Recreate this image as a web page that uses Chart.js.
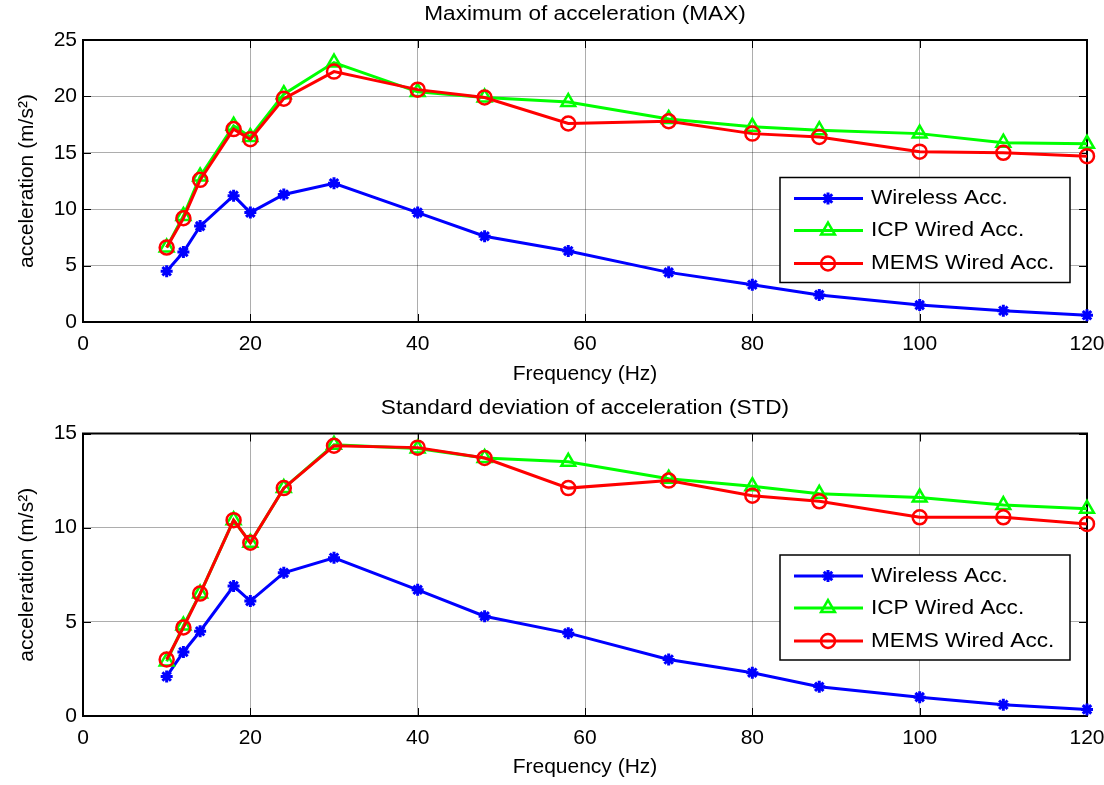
<!DOCTYPE html>
<html>
<head>
<meta charset="utf-8">
<title>Acceleration vs frequency</title>
<script src="https://cdn.jsdelivr.net/npm/chart.js@4/dist/chart.umd.min.js"></script>
<style>
  html, body { margin: 0; padding: 0; background: #fff; }
  #wrap { position: relative; width: 1104px; height: 785px; }
  .panel { position: absolute; left: 0; width: 1104px; }
</style>
</head>
<body>
<div id="wrap">
  <div class="panel" style="top:0;height:392px"><canvas id="maxChart" width="1104" height="392"></canvas></div>
  <div class="panel" style="top:392px;height:393px"><canvas id="stdChart" width="1104" height="393"></canvas></div>
</div>
<script>
// excitation frequencies (Hz)
const frecuencias = [10, 12, 14, 18, 20, 24, 30, 40, 48, 58, 70, 80, 88, 100, 110, 120];

// maximum of acceleration (m/s^2)
const maxWireless = [4.5, 6.2, 8.5, 11.2, 9.7, 11.3, 12.3, 9.7, 7.6, 6.3, 4.4, 3.3, 2.4, 1.5, 1.0, 0.6];
const maxICP      = [6.6, 9.4, 12.9, 17.4, 16.4, 20.2, 23.0, 20.4, 19.9, 19.5, 18.0, 17.3, 17.0, 16.7, 15.9, 15.8];
const maxMEMS     = [6.6, 9.2, 12.6, 17.1, 16.2, 19.8, 22.2, 20.6, 19.9, 17.6, 17.8, 16.7, 16.4, 15.1, 15.0, 14.7];

// standard deviation of acceleration (m/s^2)
const stdWireless = [2.1, 3.4, 4.5, 6.9, 6.1, 7.6, 8.4, 6.7, 5.3, 4.4, 3.0, 2.3, 1.55, 1.0, 0.6, 0.35];
const stdICP      = [2.9, 4.8, 6.5, 10.4, 9.2, 12.1, 14.4, 14.2, 13.7, 13.5, 12.6, 12.2, 11.8, 11.6, 11.2, 11.0];
const stdMEMS     = [3.0, 4.7, 6.5, 10.4, 9.2, 12.1, 14.35, 14.25, 13.7, 12.1, 12.5, 11.7, 11.4, 10.55, 10.55, 10.2];

const xTicks = [0, 20, 40, 60, 80, 100, 120];
const maxYTicks = [0, 5, 10, 15, 20, 25];
const stdYTicks = [0, 5, 10, 15];

const serieNombres = ["Wireless Acc.", "ICP Wired Acc.", "MEMS Wired Acc."];
const serieColores = ["#0000ff", "#00ff00", "#ff0000"];
const serieMarcas  = ["star", "triangle", "circle"];
const serieRadios  = [6, 8, 7];
const serieBordes  = [3, 2.5, 2.5];

const FUENTE = '"Liberation Sans", Arial, Helvetica, sans-serif';
Chart.defaults.font.family = FUENTE;
Chart.defaults.font.size = 21;
Chart.defaults.color = "#000";

function puntos(valores) {
    return frecuencias.map((f, i) => ({ x: f, y: valores[i] }));
}

// text drawn a little wider, like the MATLAB renderer
function textoAncho(ctx, txt, x, y, align, size) {
    ctx.save();
    ctx.font = size + "px " + FUENTE;
    ctx.fillStyle = "#000";
    ctx.textBaseline = "middle";
    ctx.textAlign = align;
    ctx.translate(x, y);
    ctx.scale(1.13, 1);
    ctx.fillText(txt, 0, 0);
    ctx.restore();
}

function marca(ctx, i, x, y) {
    ctx.save();
    ctx.strokeStyle = serieColores[i];
    ctx.fillStyle = "rgba(0,0,0,0)";
    ctx.lineWidth = serieBordes[i];
    Chart.helpers.drawPoint(ctx, { pointStyle: serieMarcas[i], radius: serieRadios[i], rotation: 0, borderWidth: serieBordes[i] }, x, y);
    ctx.restore();
}

// box, inward ticks, title and legend in MATLAB style
const ejesMatlab = {
    id: "ejesMatlab",
    beforeDatasetsDraw(chart) {
        const { ctx, chartArea: a, scales } = chart;
        ctx.save();
        ctx.strokeStyle = "#000";
        ctx.lineWidth = 1;
        for (const t of scales.x.ticks) {
            const px = Math.round(scales.x.getPixelForValue(t.value)) + 0.5;
            ctx.beginPath();
            ctx.moveTo(px, a.bottom); ctx.lineTo(px, a.bottom - 8);
            ctx.moveTo(px, a.top); ctx.lineTo(px, a.top + 8);
            ctx.stroke();
        }
        for (const t of scales.y.ticks) {
            const py = Math.round(scales.y.getPixelForValue(t.value)) + 0.5;
            ctx.beginPath();
            ctx.moveTo(a.left, py); ctx.lineTo(a.left + 8, py);
            ctx.moveTo(a.right, py); ctx.lineTo(a.right - 8, py);
            ctx.stroke();
        }
        ctx.lineWidth = 2;
        ctx.strokeRect(a.left, a.top, a.right - a.left, a.bottom - a.top);
        ctx.restore();
    },
    afterDraw(chart, args, opts) {
        const { ctx, chartArea: a } = chart;
        textoAncho(ctx, opts.titulo, (a.left + a.right) / 2, opts.tituloY, "center", 20);

        // legend box inside the axes
        const w = 290, h = 105;
        const lx = a.right - 17 - w;
        const ly = a.top + opts.leyendaTop;
        ctx.save();
        ctx.fillStyle = "#fff";
        ctx.fillRect(lx, ly, w, h);
        ctx.strokeStyle = "#000";
        ctx.lineWidth = 1.5;
        ctx.strokeRect(lx, ly, w, h);
        ctx.restore();
        const filas = [21, 53, 86];
        serieNombres.forEach((nombre, i) => {
            const y = ly + filas[i];
            ctx.save();
            ctx.strokeStyle = serieColores[i];
            ctx.lineWidth = 3;
            ctx.beginPath();
            ctx.moveTo(lx + 14, y); ctx.lineTo(lx + 83, y);
            ctx.stroke();
            ctx.restore();
            marca(ctx, i, lx + 48, y);
            textoAncho(ctx, nombre, lx + 91, y, "left", 20);
        });
    }
};

function crearGrafico(id, series, yTicks, ymax, titulo, tituloY, leyendaTop, alto, areaTop, areaBottom) {
    const datasets = series.map((vals, i) => ({
        label: serieNombres[i],
        data: puntos(vals),
        borderColor: serieColores[i],
        backgroundColor: serieColores[i],
        borderWidth: 3,
        pointStyle: serieMarcas[i],
        pointRadius: serieRadios[i],
        pointBorderWidth: serieBordes[i],
        pointBackgroundColor: "rgba(0,0,0,0)",
        pointBorderColor: serieColores[i],
        tension: 0,
        clip: false,
        order: 3 - i
    }));

    return new Chart(document.getElementById(id), {
        type: "line",
        data: { datasets },
        options: {
            responsive: false,
            animation: false,
            layout: { padding: { top: areaTop, right: 17, left: 0, bottom: 0 } },
            plugins: {
                legend: { display: false },
                tooltip: { enabled: false },
                ejesMatlab: { titulo, tituloY, leyendaTop }
            },
            scales: {
                x: {
                    type: "linear",
                    min: 0, max: 120,
                    afterBuildTicks: (s) => { s.ticks = xTicks.map(v => ({ value: v })); },
                    afterFit: (s) => {
                        s.height = alto - areaBottom;
                        s.paddingLeft = 0;
                        s.paddingRight = 0;
                    },
                    grid: { color: "rgba(0,0,0,0.32)", lineWidth: 1, drawTicks: false },
                    border: { display: false },
                    ticks: { padding: 10, maxRotation: 0, font: { size: 21 } },
                    title: { display: true, text: "Frequency (Hz)", padding: { top: 0, bottom: 5 }, font: { size: 21 } }
                },
                y: {
                    type: "linear",
                    min: 0, max: ymax,
                    afterBuildTicks: (s) => { s.ticks = yTicks.map(v => ({ value: v })); },
                    afterFit: (s) => {
                        s.width = 83;
                        s.paddingTop = 0;
                        s.paddingBottom = 0;
                    },
                    grid: { color: "rgba(0,0,0,0.32)", lineWidth: 1, drawTicks: false },
                    border: { display: false },
                    ticks: { padding: 6, font: { size: 21 } },
                    title: { display: true, text: "acceleration (m/s²)", padding: { top: 15, bottom: 0 }, font: { size: 21 } }
                }
            }
        },
        plugins: [ejesMatlab]
    });
}

crearGrafico("maxChart", [maxWireless, maxICP, maxMEMS], maxYTicks, 25,
    "Maximum of acceleration (MAX)", 14, 137.5, 392, 40, 322);
crearGrafico("stdChart", [stdWireless, stdICP, stdMEMS], stdYTicks, 15,
    "Standard deviation of acceleration (STD)", 16, 121.5, 393, 41.5, 324);
</script>
</body>
</html>
